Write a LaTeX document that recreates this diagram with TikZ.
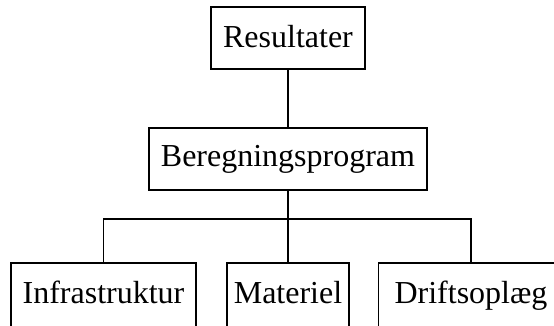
\documentclass[tikz,border=0pt]{standalone}
\usepackage{fontspec}
\setmainfont{Liberation Serif}
\usetikzlibrary{positioning}
\tikzset{
every path/.style={line width=1.4pt}, % thin black lines
every node/.style={font=\fontsize{32}{38}\selectfont,align=center}
}

\begin{document}
\begin{tikzpicture}[x=1pt,y=1pt,
   box/.style={rectangle, draw, minimum height=62pt, text height=22pt, text depth=7pt, inner sep=0pt}]
   \useasboundingbox (0,0) rectangle (554,325);
   \node[box, minimum width=154pt, text depth=3pt] (res) at (288,287) {Resultater};
   \node[box, minimum width=278pt] (beregn) at (288,166) {Beregningsprogram};
   \node[box, minimum width=185pt, minimum height=66pt] (infra) at (103.5,29) {Infrastruktur};
   \node[box, minimum width=122pt, minimum height=66pt] (mat)   at (288,29)   {Materiel};
   \node[box, minimum width=185pt, minimum height=66pt] (drift) at (471,29)   {Driftsoplæg};
   \coordinate (bus) at (288,106);
   \draw (res) -- (beregn);
   \draw (beregn) -- (mat);
   \draw (infra) |- (bus) -| (drift);
\end{tikzpicture}
\end{document}
